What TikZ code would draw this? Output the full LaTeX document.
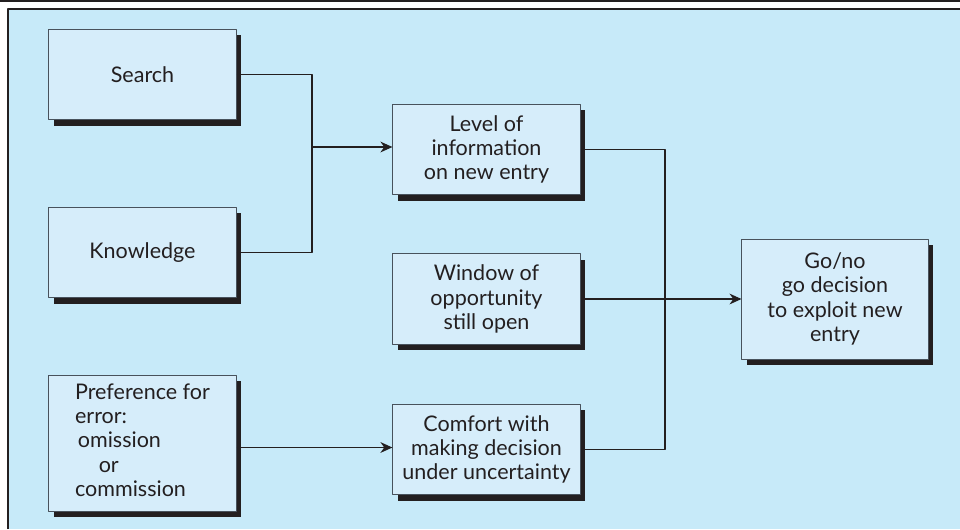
\documentclass[tikz,border=0pt]{standalone}
\usepackage{fontspec}
\setmainfont{Lato}
\usepackage{tikz}
\usetikzlibrary{arrows.meta,shadows}

\definecolor{panelblue}{RGB}{199,234,249}
\definecolor{boxblue}{RGB}{214,237,250}
\definecolor{shadowblack}{RGB}{35,31,32}
\definecolor{edgegray}{RGB}{72,82,92}

\begin{document}
\begin{tikzpicture}[x=0.025cm, y=-0.025cm, line join=round,
	block/.style={draw=edgegray, line width=0.7pt, fill=boxblue, align=center, inner sep=0pt,
		minimum width=4.68cm, minimum height=2.27cm, font=\fontsize{15.3}{17.2}\selectfont\color{shadowblack},
		general shadow={fill=shadowblack, shadow xshift=0.13cm, shadow yshift=-0.15cm}},
	link/.style={draw=shadowblack, line width=0.75pt},
	arrowlink/.style={link, -{Stealth[length=0.3cm, width=0.27cm]}}]

\useasboundingbox (0,0) rectangle (960,529);

% frame and panel
\fill[panelblue] (8,9) rectangle (960,529);
\draw[shadowblack, line width=1.2pt] (0,1) -- (960,1);
\draw[shadowblack, line width=0.9pt] (8,529) -- (8,9) -- (960,9);

% left column
\node (search) at (142.5, 74.5) [block] {Search};
\node (knowledge) at (142.5, 252.5) [block] {Knowledge};
\node (preference) at (142.5, 443) [block, minimum height=3.4cm] {%
	\begin{tabular}{@{}l@{}}Preference for\\error:\\\hspace{2pt}omission\\\hspace{1.1em}or\\commission\end{tabular}};

% middle column
\node (level) at (486.5, 149.5) [block] {Level of\\information\\on new entry};
\node (window) at (486.5, 299) [block] {Window of\\opportunity\\still open};
\node (comfort) at (486.5, 449.5) [block] {Comfort with\\making decision\\under uncertainty};

% right column
\node (gono) at (835, 299) [block, minimum width=4.65cm, minimum height=3cm] {Go/no\\go decision\\to exploit new\\entry};

% connectors
\coordinate (merge) at (312, 147);
\coordinate (bus) at (665, 300);

\draw[link] (search.east) -| (merge);
\draw[link] (knowledge.east) -| (merge);
\draw[arrowlink] (merge) -- (merge -| level.west);

\draw[arrowlink] (preference.east |- 0,447.5) -- (comfort.west |- 0,447.5);

\draw[link] (level.east) -| (bus);
\draw[link] (comfort.east) -| (bus);
\draw[arrowlink] (window.east) -- (gono.west);

\end{tikzpicture}
\end{document}
